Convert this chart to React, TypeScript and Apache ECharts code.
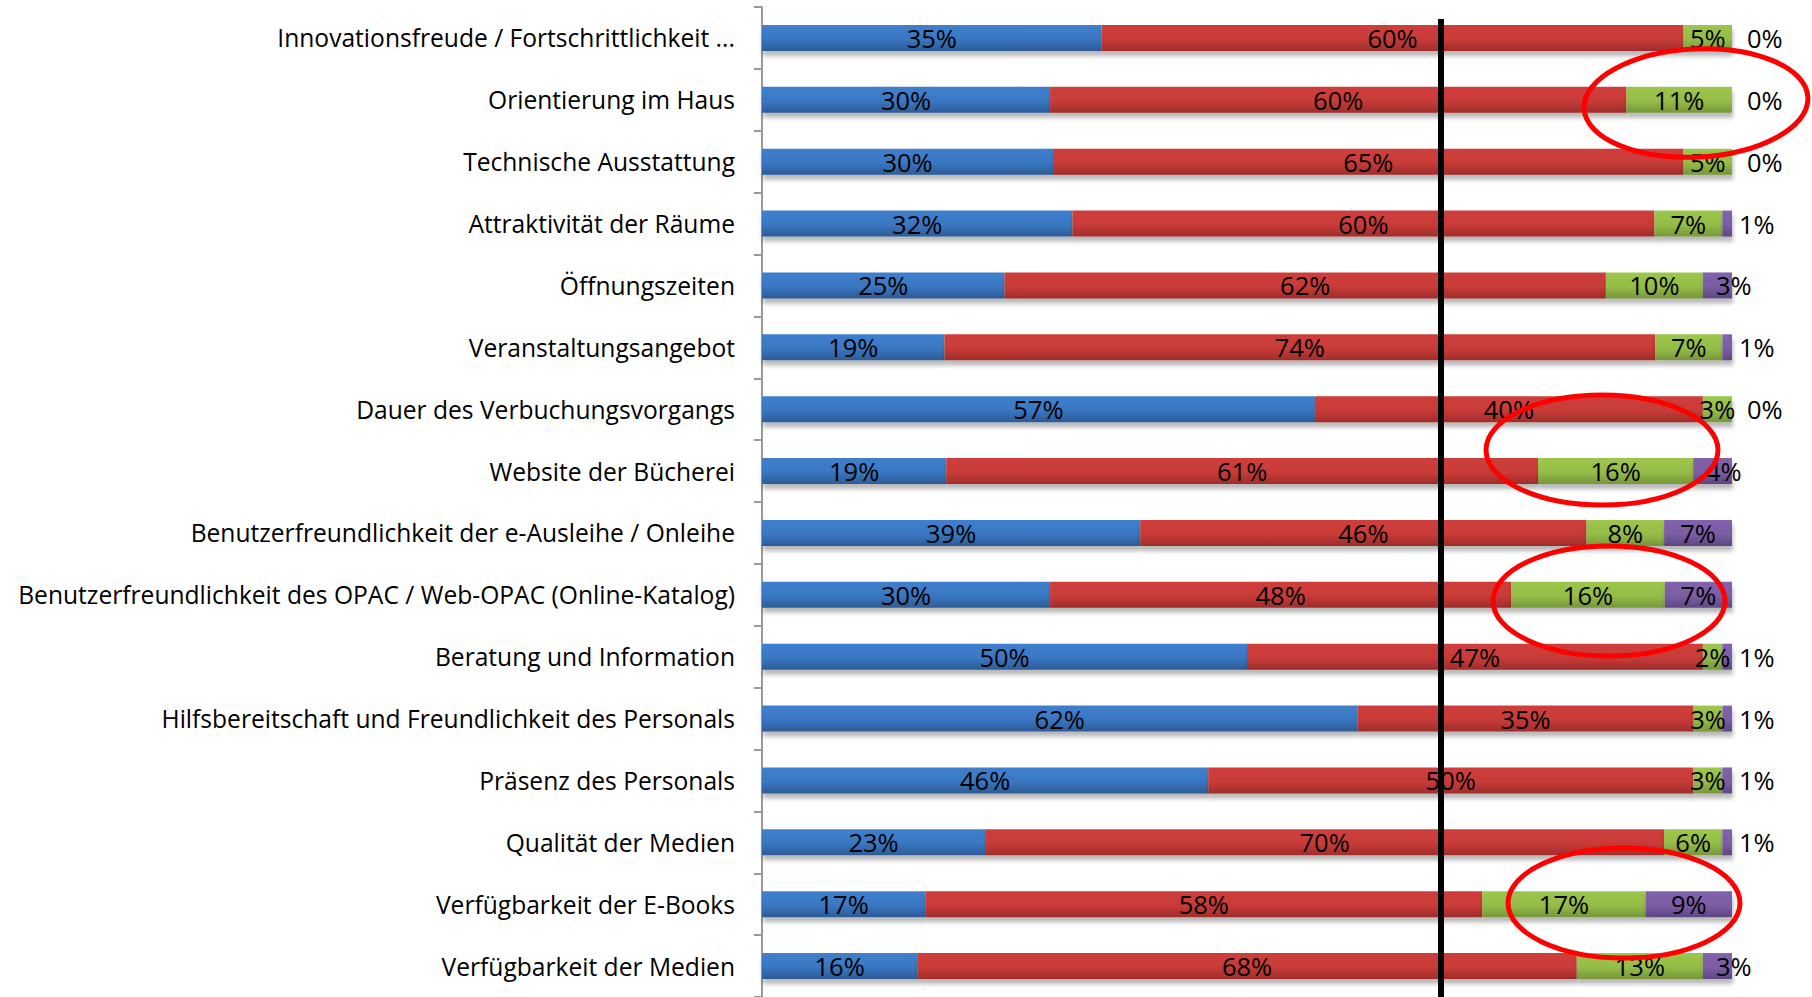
import React, { useEffect, useRef } from "react";
import * as echarts from "echarts";

const categories = [
  "Innovationsfreude / Fortschrittlichkeit ...",
  "Orientierung im Haus",
  "Technische Ausstattung",
  "Attraktivität der Räume",
  "Öffnungszeiten",
  "Veranstaltungsangebot",
  "Dauer des Verbuchungsvorgangs",
  "Website der Bücherei",
  "Benutzerfreundlichkeit der e-Ausleihe / Onleihe",
  "Benutzerfreundlichkeit des OPAC / Web-OPAC (Online-Katalog)",
  "Beratung und Information",
  "Hilfsbereitschaft und Freundlichkeit des Personals",
  "Präsenz des Personals",
  "Qualität der Medien",
  "Verfügbarkeit der E-Books",
  "Verfügbarkeit der Medien",
];

const sehrZufrieden = [35, 30, 30, 32, 25, 19, 57, 19, 39, 30, 50, 62, 46, 23, 17, 16];
const zufrieden = [60, 60, 65, 60, 62, 74, 40, 61, 46, 48, 47, 35, 50, 70, 58, 68];
const wenigerZufrieden = [5, 11, 5, 7, 10, 7, 3, 16, 8, 16, 2, 3, 3, 6, 17, 13];
const unzufrieden = [0, 0, 0, 1, 3, 1, 0, 4, 7, 7, 1, 1, 1, 1, 9, 3];

const markValue = 70;

const FONT = "'Open Sans', 'Noto Sans', sans-serif";

const rowSums = categories.map(
  (_, i) => sehrZufrieden[i] + zufrieden[i] + wenigerZufrieden[i] + unzufrieden[i]
);

function grad(c0: string, c1: string, c2: string) {
  return new echarts.graphic.LinearGradient(0, 0, 0, 1, [
    { offset: 0, color: c0 },
    { offset: 0.55, color: c1 },
    { offset: 1, color: c2 },
  ]);
}

function purpleOffset(v: number) {
  if (v === 0) return 15;
  if (v === 1) return 7;
  if (v === 3) return -16;
  return -26;
}

export default function App() {
  const ref = useRef<HTMLDivElement>(null);

  useEffect(() => {
    if (!ref.current) return;
    const chart = echarts.init(ref.current, null, { renderer: "svg" });

    const baseLabel = {
      show: true,
      position: "inside",
      color: "#000",
      fontFamily: FONT,
      fontSize: 25.5,
      formatter: (p: any) => p.data.raw + "%",
    };

    const shadow = {
      shadowColor: "rgba(0,0,0,0.28)",
      shadowBlur: 4,
      shadowOffsetY: 5,
      shadowOffsetX: 1,
    };

    const mk = (name: string, arr: number[], color: any, purple = false) => ({
      name,
      type: "bar",
      stack: "total",
      barWidth: 26,
      clip: false,
      itemStyle: { color, ...shadow },
      label: baseLabel,
      data: arr.map((v, i) => {
        const item: any = { value: (v * 100) / rowSums[i], raw: v };
        if (purple && v < 5) {
          item.label = {
            position: "right",
            distance: 0,
            offset: [purpleOffset(v), 0],
          };
        }
        return item;
      }),
    });

    chart.setOption({
      animation: false,
      backgroundColor: "#fff",
      grid: { left: 762, width: 970, top: 7, height: 995 },
      xAxis: {
        type: "value",
        min: 0,
        max: 100,
        show: false,
        splitLine: { show: false },
      },
      yAxis: {
        type: "category",
        inverse: true,
        data: categories,
        axisLine: { show: true, lineStyle: { color: "#9a9a9a", width: 2 } },
        axisTick: { show: true, length: 8, lineStyle: { color: "#9a9a9a", width: 2 } },
        axisLabel: {
          color: "#000",
          fontFamily: FONT,
          fontSize: 24.6,
          margin: 27,
        },
        splitLine: { show: false },
      },
      series: [
        mk("sehr zufrieden", sehrZufrieden, grad("#3E80CE", "#3A77C2", "#2C5B95")),
        mk("zufrieden", zufrieden, grad("#CF3E3B", "#C83B38", "#9E2D2A")),
        mk("weniger zufrieden", wenigerZufrieden, grad("#9DC64C", "#95BC47", "#76963A")),
        mk("unzufrieden", unzufrieden, grad("#8163AD", "#7A5DA4", "#5E4781"), true),
      ],
    });

    const px = chart.convertToPixel({ xAxisIndex: 0 }, markValue) as number;
    const ellipse = (cx: number, cy: number, rx: number, ry: number, rot = 0) => ({
      type: "ellipse",
      x: cx,
      y: cy,
      rotation: rot,
      z: 100,
      silent: true,
      shape: { cx: 0, cy: 0, rx, ry },
      style: { fill: "none", stroke: "#FF0000", lineWidth: 5 },
    });

    chart.setOption({
      graphic: [
        {
          type: "line",
          z: 100,
          silent: true,
          shape: { x1: px, y1: 19, x2: px, y2: 1000 },
          style: { stroke: "#000", lineWidth: 6 },
        },
        ellipse(1696, 103, 112, 54, 0.05),
        ellipse(1602, 450, 116, 55),
        ellipse(1609, 601, 116, 55),
        ellipse(1624, 903, 116, 55),
      ],
    });

    return () => chart.dispose();
  }, []);

  return (
    <div
      ref={ref}
      style={{
        position: "fixed",
        left: 0,
        top: 0,
        width: "100vw",
        height: "100vh",
        background: "#fff",
      }}
    />
  );
}
